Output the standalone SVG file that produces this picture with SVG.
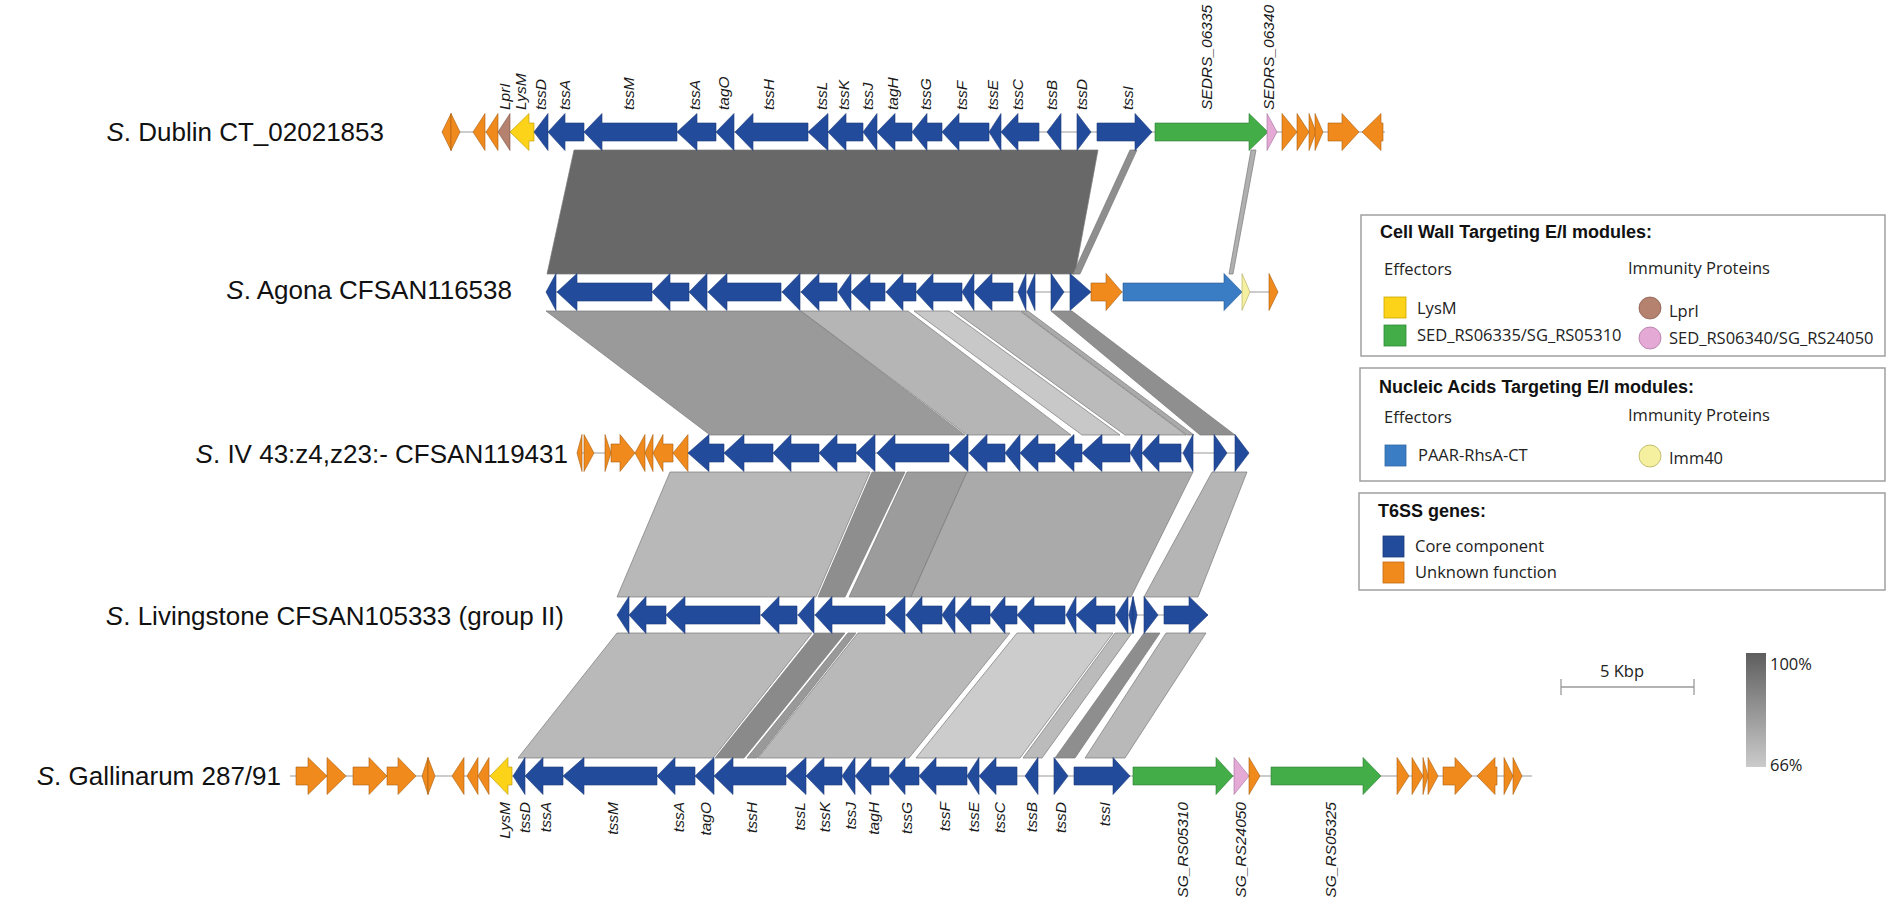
<svg xmlns="http://www.w3.org/2000/svg" width="1901" height="903" viewBox="0 0 1901 903">
<defs>
<linearGradient id="idg" x1="0" y1="0" x2="0" y2="1"><stop offset="0" stop-color="#5e5e5e"/><stop offset="1" stop-color="#cbcbcb"/></linearGradient>
<style>
.core{fill:#234b9c;stroke:#1b3a78;stroke-width:.6}
.unk{fill:#f08a1d;stroke:#a85f12;stroke-width:.6}
.lys{fill:#fdd31a;stroke:#b59600;stroke-width:.6}
.lpr{fill:#b5826f;stroke:#7d5646;stroke-width:.6}
.grn{fill:#43ae48;stroke:#2c7a30;stroke-width:.6}
.pnk{fill:#e4a9d5;stroke:#a2709a;stroke-width:.6}
.paar{fill:#3b7dc4;stroke:#275a94;stroke-width:.6}
.imm{fill:#f5f0a0;stroke:#b0aa60;stroke-width:.6}
.trk{stroke:#9a9a9a;stroke-width:1.2}
.band{stroke:#7a7a7a;stroke-width:.7}
.gl{font-family:"Liberation Sans",Arial,sans-serif;font-style:italic;font-size:15.5px;fill:#1a1a1a}
.gle{font-family:"Liberation Sans",Arial,sans-serif;font-style:italic;font-size:15.5px;fill:#1a1a1a;text-anchor:end}
.rl{font-family:"Liberation Sans",Arial,sans-serif;font-size:26px;fill:#111;text-anchor:end}
.lt{font-family:"Liberation Sans",Arial,sans-serif;font-weight:bold;font-size:18px;fill:#111}
.lx{font-family:"Open Sans","Liberation Sans",sans-serif;font-size:16.5px;fill:#222}
.box{fill:#fff;stroke:#a0a0a0;stroke-width:1.5}
</style>
</defs>
<rect width="1901" height="903" fill="#fff"/>

<g id="connectors">
<polygon class="band" fill="#686868" points="574,150 1098,150 1075,274 547,274"/>
<polygon class="band" fill="#8e8e8e" points="1130,150 1137,150 1080,274 1073,274"/>
<polygon class="band" fill="#b0b0b0" points="1251,150 1256,150 1233,274 1229,274"/>

<polygon class="band" fill="#9a9a9a" points="546,311 801,311 965,435 710,435"/>
<polygon class="band" fill="#b5b5b5" points="801,311 908,311 1071,435 967,435"/>
<polygon class="band" fill="#c8c8c8" points="914,311 949,311 1120,435 1082,435"/>
<polygon class="band" fill="#bbbbbb" points="954,311 1020,311 1186,435 1125,435"/>
<polygon class="band" fill="#aaaaaa" points="1021,311 1028,311 1194,435 1187,435"/>
<polygon class="band" fill="#8f8f8f" points="1051,311 1072,311 1235,435 1200,435"/>

<polygon class="band" fill="#b8b8b8" points="670,472 870,472 816,597 617,597"/>
<polygon class="band" fill="#8e8e8e" points="872,472 905,472 845,597 818,597"/>
<polygon class="band" fill="#9c9c9c" points="907,472 967,472 911,597 849,597"/>
<polygon class="band" fill="#aaaaaa" points="967,472 1193,472 1131,597 911,597"/>
<polygon class="band" fill="#b5b5b5" points="1212,472 1247,472 1198,597 1144,597"/>

<polygon class="band" fill="#b9b9b9" points="617,633 812,633 713,758 518,758"/>
<polygon class="band" fill="#8a8a8a" points="815,633 845,633 744,758 715,758"/>
<polygon class="band" fill="#999999" points="848,633 856,633 757,758 747,758"/>
<polygon class="band" fill="#b9b9b9" points="858,633 1010,633 909,758 758,758"/>
<polygon class="band" fill="#cccccc" points="1017,633 1113,633 1020,758 916,758"/>
<polygon class="band" fill="#bbbbbb" points="1115,633 1132,633 1042,758 1023,758"/>
<polygon class="band" fill="#8e8e8e" points="1144,633 1160,633 1075,758 1055,758"/>
<polygon class="band" fill="#b9b9b9" points="1166,633 1206,633 1125,758 1085,758"/>
</g>

<g id="dublin">
<text class="rl" x="384" y="141"><tspan font-style="italic">S</tspan>. Dublin CT_02021853</text>
<g transform="translate(0,132)">
<line class="trk" x1="442" y1="0" x2="1385" y2="0"/>
<polygon class="unk" points="442,0 451,-18.5 451,18.5"/>
<polygon class="unk" points="451,-18.5 460,0 451,18.5"/>
<polygon class="unk" points="473,0 485,-18.5 485,18.5"/>
<polygon class="unk" points="486,0 498,-18.5 498,18.5"/>
<polygon class="lpr" points="498,0 510,-18.5 510,18.5"/>
<polygon class="lys" points="510,0 529,-18.5 529,-9 534,-9 534,9 529,9 529,18.5"/>
<polygon class="core" points="534,0 548,-18.5 548,18.5"/>
<polygon class="core" points="548,0 565,-18.5 565,-9 584,-9 584,9 565,9 565,18.5"/>
<polygon class="core" points="584,0 602,-18.5 602,-9 677,-9 677,9 602,9 602,18.5"/>
<polygon class="core" points="677,0 697,-18.5 697,-9 716,-9 716,9 697,9 697,18.5"/>
<polygon class="core" points="716,0 734,-18.5 734,18.5"/>
<polygon class="core" points="735,0 753,-18.5 753,-9 808,-9 808,9 753,9 753,18.5"/>
<polygon class="core" points="808,0 828,-18.5 828,18.5"/>
<polygon class="core" points="828,0 846,-18.5 846,-9 863,-9 863,9 846,9 846,18.5"/>
<polygon class="core" points="863,0 877,-18.5 877,18.5"/>
<polygon class="core" points="877,0 895,-18.5 895,-9 912,-9 912,9 895,9 895,18.5"/>
<polygon class="core" points="912,0 927,-18.5 927,-9 942,-9 942,9 927,9 927,18.5"/>
<polygon class="core" points="942,0 959,-18.5 959,-9 989,-9 989,9 959,9 959,18.5"/>
<polygon class="core" points="989,0 1001,-18.5 1001,18.5"/>
<polygon class="core" points="1001,0 1018,-18.5 1018,-9 1039,-9 1039,9 1018,9 1018,18.5"/>
<polygon class="core" points="1047,0 1061,-18.5 1061,18.5"/>
<polygon class="core" points="1077,-18.5 1091,0 1077,18.5"/>
<polygon class="core" points="1097,-9 1135,-9 1135,-18.5 1152,0 1135,18.5 1135,9 1097,9"/>
<polygon class="grn" points="1155,-9 1249,-9 1249,-18.5 1268,0 1249,18.5 1249,9 1155,9"/>
<polygon class="pnk" points="1267,-18.5 1277,0 1267,18.5"/>
<polygon class="unk" points="1282,-18.5 1297,0 1282,18.5"/>
<polygon class="unk" points="1297,-18.5 1309,0 1297,18.5"/>
<polygon class="unk" points="1309,-18.5 1316,0 1309,18.5"/>
<polygon class="unk" points="1315,-18.5 1323,0 1315,18.5"/>
<polygon class="unk" points="1328,-9 1342,-9 1342,-18.5 1359,0 1342,18.5 1342,9 1328,9"/>
<polygon class="unk" points="1362,0 1381,-18.5 1381,-9 1383,-9 1383,9 1381,9 1381,18.5"/>
</g>
<text class="gl" transform="translate(510,110) rotate(-90)">LprI</text>
<text class="gl" transform="translate(526,110) rotate(-90)">LysM</text>
<text class="gl" transform="translate(546,110) rotate(-90)">tssD</text>
<text class="gl" transform="translate(570,110) rotate(-90)">tssA</text>
<text class="gl" transform="translate(634,110) rotate(-90)">tssM</text>
<text class="gl" transform="translate(700,110) rotate(-90)">tssA</text>
<text class="gl" transform="translate(729,110) rotate(-90)">tagO</text>
<text class="gl" transform="translate(774,110) rotate(-90)">tssH</text>
<text class="gl" transform="translate(827,110) rotate(-90)">tssL</text>
<text class="gl" transform="translate(849,110) rotate(-90)">tssK</text>
<text class="gl" transform="translate(873,110) rotate(-90)">tssJ</text>
<text class="gl" transform="translate(898,110) rotate(-90)">tagH</text>
<text class="gl" transform="translate(931,110) rotate(-90)">tssG</text>
<text class="gl" transform="translate(967,110) rotate(-90)">tssF</text>
<text class="gl" transform="translate(998,110) rotate(-90)">tssE</text>
<text class="gl" transform="translate(1023,110) rotate(-90)">tssC</text>
<text class="gl" transform="translate(1057,110) rotate(-90)">tssB</text>
<text class="gl" transform="translate(1087,110) rotate(-90)">tssD</text>
<text class="gl" transform="translate(1133,110) rotate(-90)">tssI</text>
<text class="gl" transform="translate(1212,110) rotate(-90)">SEDRS_06335</text>
<text class="gl" transform="translate(1274,110) rotate(-90)">SEDRS_06340</text>
</g>

<g id="agona">
<text class="rl" x="512" y="299"><tspan font-style="italic">S</tspan>. Agona CFSAN116538</text>
<g transform="translate(0,292)">
<line class="trk" x1="546" y1="0" x2="1278" y2="0"/>
<polygon class="core" points="546,0 556,-18.5 556,18.5"/>
<polygon class="core" points="557,0 577,-18.5 577,-9 652,-9 652,9 577,9 577,18.5"/>
<polygon class="core" points="652,0 670,-18.5 670,-9 689,-9 689,9 670,9 670,18.5"/>
<polygon class="core" points="689,0 707,-18.5 707,18.5"/>
<polygon class="core" points="708,0 727,-18.5 727,-9 781,-9 781,9 727,9 727,18.5"/>
<polygon class="core" points="782,0 800,-18.5 800,18.5"/>
<polygon class="core" points="801,0 819,-18.5 819,-9 837,-9 837,9 819,9 819,18.5"/>
<polygon class="core" points="838,0 851,-18.5 851,18.5"/>
<polygon class="core" points="851,0 870,-18.5 870,-9 885,-9 885,9 870,9 870,18.5"/>
<polygon class="core" points="886,0 903,-18.5 903,-9 916,-9 916,9 903,9 903,18.5"/>
<polygon class="core" points="916,0 933,-18.5 933,-9 962,-9 962,9 933,9 933,18.5"/>
<polygon class="core" points="962,0 974,-18.5 974,18.5"/>
<polygon class="core" points="974,0 992,-18.5 992,-9 1013,-9 1013,9 992,9 992,18.5"/>
<polygon class="core" points="1018,0 1026,-18.5 1026,18.5"/>
<polygon class="core" points="1027,0 1035,-18.5 1035,18.5"/>
<polygon class="core" points="1051,-18.5 1064,0 1051,18.5"/>
<polygon class="core" points="1070,-18.5 1091,0 1070,18.5"/>
<polygon class="unk" points="1091,-9 1106,-9 1106,-18.5 1122,0 1106,18.5 1106,9 1091,9"/>
<polygon class="paar" points="1123,-9 1224,-9 1224,-18.5 1242,0 1224,18.5 1224,9 1123,9"/>
<polygon class="imm" points="1242,-18.5 1250,0 1242,18.5"/>
<polygon class="unk" points="1269,-18.5 1278,0 1269,18.5"/>
</g>
</g>

<g id="iv">
<text class="rl" x="568" y="463"><tspan font-style="italic">S</tspan>. IV 43:z4,z23:- CFSAN119431</text>
<g transform="translate(0,453)">
<line class="trk" x1="577" y1="0" x2="1249" y2="0"/>
<polygon class="unk" points="577,0 582,-18.5 582,18.5"/>
<polygon class="unk" points="584,-18.5 594,0 584,18.5"/>
<polygon class="unk" points="605,-18.5 611,0 605,18.5"/>
<polygon class="unk" points="611,-9 620,-9 620,-18.5 635,0 620,18.5 620,9 611,9"/>
<polygon class="unk" points="635,0 645,-18.5 645,18.5"/>
<polygon class="unk" points="645,0 653,-18.5 653,18.5"/>
<polygon class="unk" points="653,0 663,-18.5 663,-9 673,-9 673,9 663,9 663,18.5"/>
<polygon class="unk" points="673,0 688,-18.5 688,18.5"/>
<polygon class="core" points="688,0 709,-18.5 709,-9 724,-9 724,9 709,9 709,18.5"/>
<polygon class="core" points="724,0 744,-18.5 744,-9 773,-9 773,9 744,9 744,18.5"/>
<polygon class="core" points="773,0 791,-18.5 791,-9 819,-9 819,9 791,9 791,18.5"/>
<polygon class="core" points="819,0 837,-18.5 837,-9 856,-9 856,9 837,9 837,18.5"/>
<polygon class="core" points="856,0 875,-18.5 875,18.5"/>
<polygon class="core" points="877,0 895,-18.5 895,-9 949,-9 949,9 895,9 895,18.5"/>
<polygon class="core" points="949,0 968,-18.5 968,18.5"/>
<polygon class="core" points="969,0 987,-18.5 987,-9 1005,-9 1005,9 987,9 987,18.5"/>
<polygon class="core" points="1005,0 1020,-18.5 1020,18.5"/>
<polygon class="core" points="1020,0 1038,-18.5 1038,-9 1055,-9 1055,9 1038,9 1038,18.5"/>
<polygon class="core" points="1055,0 1074,-18.5 1074,-9 1082,-9 1082,9 1074,9 1074,18.5"/>
<polygon class="core" points="1082,0 1102,-18.5 1102,-9 1130,-9 1130,9 1102,9 1102,18.5"/>
<polygon class="core" points="1130,0 1142,-18.5 1142,18.5"/>
<polygon class="core" points="1142,0 1159,-18.5 1159,-9 1181,-9 1181,9 1159,9 1159,18.5"/>
<polygon class="core" points="1183,0 1193,-18.5 1193,18.5"/>
<polygon class="core" points="1214,-18.5 1227,0 1214,18.5"/>
<polygon class="core" points="1235,-18.5 1249,0 1235,18.5"/>
</g>
</g>

<g id="livingstone">
<text class="rl" x="564" y="625"><tspan font-style="italic">S</tspan>. Livingstone CFSAN105333 (group II)</text>
<g transform="translate(0,615)">
<line class="trk" x1="617" y1="0" x2="1208" y2="0"/>
<polygon class="core" points="617,0 629,-18.5 629,18.5"/>
<polygon class="core" points="629,0 646,-18.5 646,-9 666,-9 666,9 646,9 646,18.5"/>
<polygon class="core" points="666,0 685,-18.5 685,-9 760,-9 760,9 685,9 685,18.5"/>
<polygon class="core" points="761,0 779,-18.5 779,-9 797,-9 797,9 779,9 779,18.5"/>
<polygon class="core" points="798,0 814,-18.5 814,18.5"/>
<polygon class="core" points="815,0 832,-18.5 832,-9 885,-9 885,9 832,9 832,18.5"/>
<polygon class="core" points="886,0 905,-18.5 905,18.5"/>
<polygon class="core" points="906,0 922,-18.5 922,-9 942,-9 942,9 922,9 922,18.5"/>
<polygon class="core" points="942,0 955,-18.5 955,18.5"/>
<polygon class="core" points="955,0 971,-18.5 971,-9 990,-9 990,9 971,9 971,18.5"/>
<polygon class="core" points="990,0 1005,-18.5 1005,-9 1017,-9 1017,9 1005,9 1005,18.5"/>
<polygon class="core" points="1017,0 1034,-18.5 1034,-9 1065,-9 1065,9 1034,9 1034,18.5"/>
<polygon class="core" points="1066,0 1076,-18.5 1076,18.5"/>
<polygon class="core" points="1076,0 1096,-18.5 1096,-9 1115,-9 1115,9 1096,9 1096,18.5"/>
<polygon class="core" points="1116,0 1128,-18.5 1128,18.5"/>
<polygon class="core" points="1129,0 1133,-18.5 1133,18.5"/>
<polygon class="core" points="1133,-18.5 1137,0 1133,18.5"/>
<polygon class="core" points="1144,-18.5 1158,0 1144,18.5"/>
<polygon class="core" points="1164,-9 1189,-9 1189,-18.5 1208,0 1189,18.5 1189,9 1164,9"/>
</g>
</g>

<g id="gallinarum">
<text class="rl" x="281" y="785"><tspan font-style="italic">S</tspan>. Gallinarum 287/91</text>
<g transform="translate(0,776)">
<line class="trk" x1="290" y1="0" x2="1532" y2="0"/>
<polygon class="unk" points="296,-9 308,-9 308,-18.5 327,0 308,18.5 308,9 296,9"/>
<polygon class="unk" points="327,-18.5 346,0 327,18.5"/>
<polygon class="unk" points="353,-9 369,-9 369,-18.5 387,0 369,18.5 369,9 353,9"/>
<polygon class="unk" points="387,-9 398,-9 398,-18.5 416,0 398,18.5 398,9 387,9"/>
<polygon class="unk" points="422,0 428,-18.5 428,18.5"/>
<polygon class="unk" points="428,-18.5 435,0 428,18.5"/>
<polygon class="unk" points="452,0 464,-18.5 464,18.5"/>
<polygon class="unk" points="467,0 478,-18.5 478,18.5"/>
<polygon class="unk" points="478,0 489,-18.5 489,18.5"/>
<polygon class="lys" points="490,0 508,-18.5 508,-9 512,-9 512,9 508,9 508,18.5"/>
<polygon class="core" points="513,0 525,-18.5 525,18.5"/>
<polygon class="core" points="525,0 543,-18.5 543,-9 563,-9 563,9 543,9 543,18.5"/>
<polygon class="core" points="563,0 584,-18.5 584,-9 657,-9 657,9 584,9 584,18.5"/>
<polygon class="core" points="657,0 675,-18.5 675,-9 695,-9 695,9 675,9 675,18.5"/>
<polygon class="core" points="695,0 714,-18.5 714,18.5"/>
<polygon class="core" points="714,0 733,-18.5 733,-9 786,-9 786,9 733,9 733,18.5"/>
<polygon class="core" points="786,0 806,-18.5 806,18.5"/>
<polygon class="core" points="806,0 824,-18.5 824,-9 842,-9 842,9 824,9 824,18.5"/>
<polygon class="core" points="842,0 855,-18.5 855,18.5"/>
<polygon class="core" points="855,0 871,-18.5 871,-9 889,-9 889,9 871,9 871,18.5"/>
<polygon class="core" points="889,0 905,-18.5 905,-9 919,-9 919,9 905,9 905,18.5"/>
<polygon class="core" points="919,0 936,-18.5 936,-9 967,-9 967,9 936,9 936,18.5"/>
<polygon class="core" points="967,0 979,-18.5 979,18.5"/>
<polygon class="core" points="979,0 996,-18.5 996,-9 1017,-9 1017,9 996,9 996,18.5"/>
<polygon class="core" points="1025,0 1038,-18.5 1038,18.5"/>
<polygon class="core" points="1054,-18.5 1068,0 1054,18.5"/>
<polygon class="core" points="1074,-9 1113,-9 1113,-18.5 1130,0 1113,18.5 1113,9 1074,9"/>
<polygon class="grn" points="1133,-9 1216,-9 1216,-18.5 1233,0 1216,18.5 1216,9 1133,9"/>
<polygon class="pnk" points="1234,-18.5 1249,0 1234,18.5"/>
<polygon class="unk" points="1249,-18.5 1260,0 1249,18.5"/>
<polygon class="grn" points="1271,-9 1363,-9 1363,-18.5 1381,0 1363,18.5 1363,9 1271,9"/>
<polygon class="unk" points="1397,-18.5 1409,0 1397,18.5"/>
<polygon class="unk" points="1412,-18.5 1423,0 1412,18.5"/>
<polygon class="unk" points="1423,-18.5 1428,0 1423,18.5"/>
<polygon class="unk" points="1428,-18.5 1438,0 1428,18.5"/>
<polygon class="unk" points="1443,-9 1455,-9 1455,-18.5 1472,0 1455,18.5 1455,9 1443,9"/>
<polygon class="unk" points="1477,0 1495,-18.5 1495,-9 1497,-9 1497,9 1495,9 1495,18.5"/>
<polygon class="unk" points="1504,-18.5 1513,0 1504,18.5"/>
<polygon class="unk" points="1513,-18.5 1522,0 1513,18.5"/>
</g>
<text class="gle" transform="translate(510,802) rotate(-90)">LysM</text>
<text class="gle" transform="translate(530,802) rotate(-90)">tssD</text>
<text class="gle" transform="translate(551,802) rotate(-90)">tssA</text>
<text class="gle" transform="translate(618,802) rotate(-90)">tssM</text>
<text class="gle" transform="translate(684,802) rotate(-90)">tssA</text>
<text class="gle" transform="translate(711,802) rotate(-90)">tagO</text>
<text class="gle" transform="translate(757,802) rotate(-90)">tssH</text>
<text class="gle" transform="translate(805,802) rotate(-90)">tssL</text>
<text class="gle" transform="translate(830,802) rotate(-90)">tssK</text>
<text class="gle" transform="translate(856,802) rotate(-90)">tssJ</text>
<text class="gle" transform="translate(879,802) rotate(-90)">tagH</text>
<text class="gle" transform="translate(912,802) rotate(-90)">tssG</text>
<text class="gle" transform="translate(950,802) rotate(-90)">tssF</text>
<text class="gle" transform="translate(979,802) rotate(-90)">tssE</text>
<text class="gle" transform="translate(1005,802) rotate(-90)">tssC</text>
<text class="gle" transform="translate(1037,802) rotate(-90)">tssB</text>
<text class="gle" transform="translate(1066,802) rotate(-90)">tssD</text>
<text class="gle" transform="translate(1110,802) rotate(-90)">tssI</text>
<text class="gle" transform="translate(1188,802) rotate(-90)">SG_RS05310</text>
<text class="gle" transform="translate(1246,802) rotate(-90)">SG_RS24050</text>
<text class="gle" transform="translate(1336,802) rotate(-90)">SG_RS05325</text>
</g>

<g id="legend">
<rect class="box" x="1361" y="215" width="524" height="141"/>
<text class="lt" x="1380" y="238">Cell Wall Targeting E/I modules:</text>
<text class="lx" x="1384" y="275">Effectors</text>
<text class="lx" x="1628" y="274">Immunity Proteins</text>
<rect x="1384" y="297" width="22" height="21" fill="#fdd31a" stroke="#c9a800" stroke-width=".8"/>
<text class="lx" x="1417" y="314">LysM</text>
<rect x="1384" y="325" width="22" height="21" fill="#43ae48" stroke="#2f8a35" stroke-width=".8"/>
<text class="lx" x="1417" y="341">SED_RS06335/SG_RS05310</text>
<circle cx="1650" cy="308" r="11" fill="#b5826f" stroke="#8a6050" stroke-width=".8"/>
<text class="lx" x="1669" y="317">Lprl</text>
<circle cx="1650" cy="338" r="11" fill="#e4a9d5" stroke="#b07aa5" stroke-width=".8"/>
<text class="lx" x="1669" y="344">SED_RS06340/SG_RS24050</text>

<rect class="box" x="1360" y="368" width="525" height="113"/>
<text class="lt" x="1379" y="393">Nucleic Acids Targeting E/I modules:</text>
<text class="lx" x="1384" y="423">Effectors</text>
<text class="lx" x="1628" y="421">Immunity Proteins</text>
<rect x="1385" y="445" width="21" height="21" fill="#3b7dc4" stroke="#2d66a3" stroke-width=".8"/>
<text class="lx" x="1418" y="461">PAAR-RhsA-CT</text>
<circle cx="1650" cy="456" r="11" fill="#f5f0a0" stroke="#b8b060" stroke-width=".8"/>
<text class="lx" x="1669" y="464">Imm40</text>

<rect class="box" x="1359" y="493" width="526" height="97"/>
<text class="lt" x="1378" y="517">T6SS genes:</text>
<rect x="1383" y="536" width="21" height="21" fill="#234b9c" stroke="#1b3a78" stroke-width=".8"/>
<text class="lx" x="1415" y="552">Core component</text>
<rect x="1383" y="562" width="21" height="21" fill="#f08a1d" stroke="#c06a10" stroke-width=".8"/>
<text class="lx" x="1415" y="578">Unknown function</text>
</g>

<g id="scale">
<text class="lx" x="1622" y="677" text-anchor="middle">5 Kbp</text>
<line x1="1561" y1="687" x2="1694" y2="687" stroke="#9a9a9a" stroke-width="1.3"/>
<line x1="1561" y1="679" x2="1561" y2="695" stroke="#9a9a9a" stroke-width="1.3"/>
<line x1="1694" y1="679" x2="1694" y2="695" stroke="#9a9a9a" stroke-width="1.3"/>
<rect x="1746" y="653" width="20" height="114" fill="url(#idg)"/>
<text class="lx" x="1770" y="670">100%</text>
<text class="lx" x="1770" y="771">66%</text>
</g>
</svg>
